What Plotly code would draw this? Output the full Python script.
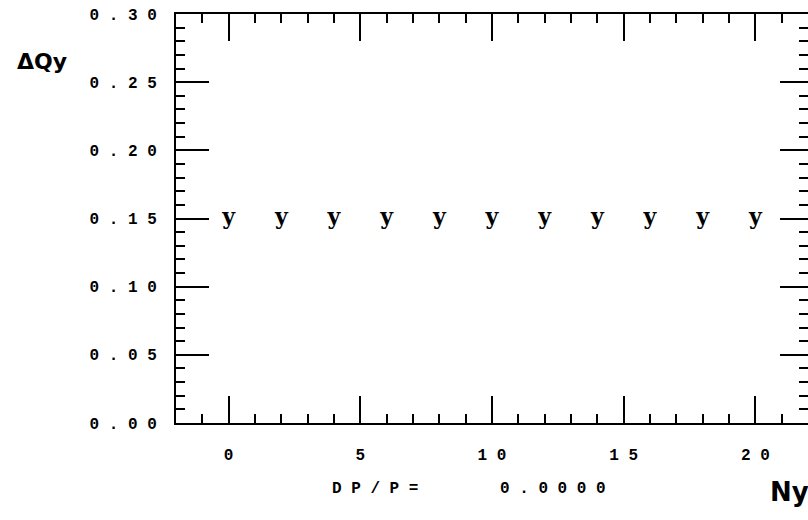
import plotly.graph_objects as go

# data
n_values = [0, 2, 4, 6, 8, 10, 12, 14, 16, 18, 20]
dq_values = [0.15, 0.15, 0.15, 0.15, 0.15, 0.15, 0.15, 0.15, 0.15, 0.15, 0.15]
marker_text = ["y"] * len(n_values)

x_tickvals = [0, 5, 10, 15, 20]
x_ticktext = ["0", "5", "1 0", "1 5", "2 0"]
y_tickvals = [0.0, 0.05, 0.10, 0.15, 0.20, 0.25, 0.30]
y_ticktext = ["0 . 0 0", "0 . 0 5", "0 . 1 0", "0 . 1 5", "0 . 2 0", "0 . 2 5", "0 . 3 0"]

W, H = 808, 520
L, R, T, B = 176, 0, 14, 97

fig = go.Figure()
fig.add_trace(go.Scatter(
    x=n_values, y=dq_values, mode="text", text=marker_text,
    textposition="middle center",
    textfont=dict(family="DejaVu Serif", size=22, color="black", weight="bold"),
    showlegend=False, hoverinfo="skip",
))
# invisible trace to activate the right-side tick axis
fig.add_trace(go.Scatter(x=[None], y=[None], yaxis="y2", showlegend=False, hoverinfo="skip"))

tickfont = dict(family="Liberation Mono", size=16, color="black", weight="bold")
minor_y = dict(tickmode="linear", tick0=0, dtick=0.01, ticks="inside",
               ticklen=9, tickwidth=2, tickcolor="black", showgrid=False)

fig.update_layout(
    width=W, height=H,
    margin=dict(l=L, r=R, t=T, b=B, pad=0),
    paper_bgcolor="white", plot_bgcolor="white",
    xaxis=dict(
        range=[-2, 22], showgrid=False, zeroline=False,
        showline=True, linecolor="black", linewidth=2, mirror="ticks",
        tickmode="array", tickvals=x_tickvals, ticktext=x_ticktext,
        ticks="inside", ticklen=27, tickwidth=2, tickcolor="black",
        tickfont=tickfont, ticklabelstandoff=16,
        minor=dict(tickmode="linear", tick0=0, dtick=1, ticks="inside",
                   ticklen=9, tickwidth=2, tickcolor="black", showgrid=False),
    ),
    yaxis=dict(
        range=[0, 0.30], showgrid=False, zeroline=False,
        showline=True, linecolor="black", linewidth=2, mirror=False,
        tickmode="array", tickvals=y_tickvals, ticktext=y_ticktext,
        ticks="inside", ticklen=33, tickwidth=2, tickcolor="black",
        tickfont=tickfont, ticklabelstandoff=14,
        minor=minor_y,
    ),
    yaxis2=dict(
        range=[0, 0.30], overlaying="y", side="right", showgrid=False, zeroline=False,
        showline=False, tickmode="array", tickvals=y_tickvals,
        ticks="inside", ticklen=28, tickwidth=2, tickcolor="black",
        showticklabels=False, minor=minor_y,
    ),
)

pw = W - L - R
ph = H - T - B

def px(xp):
    return (xp - L) / pw

def py(yp):
    return (H - B - yp) / ph

fig.add_annotation(x=px(42), y=py(62), xref="paper", yref="paper", text="ΔQy",
                   showarrow=False, xanchor="center", yanchor="middle",
                   font=dict(family="DejaVu Sans", size=22, color="black", weight="bold"))
fig.add_annotation(x=px(375), y=py(489), xref="paper", yref="paper", text="D P / P =",
                   showarrow=False, xanchor="center", yanchor="middle",
                   font=tickfont)
fig.add_annotation(x=px(553), y=py(489), xref="paper", yref="paper", text="0 . 0 0 0 0",
                   showarrow=False, xanchor="center", yanchor="middle",
                   font=tickfont)
fig.add_annotation(x=px(789), y=py(492), xref="paper", yref="paper", text="Ny",
                   showarrow=False, xanchor="center", yanchor="middle",
                   font=dict(family="DejaVu Sans", size=26, color="black", weight="bold"))

fig.write_html("out.html")
